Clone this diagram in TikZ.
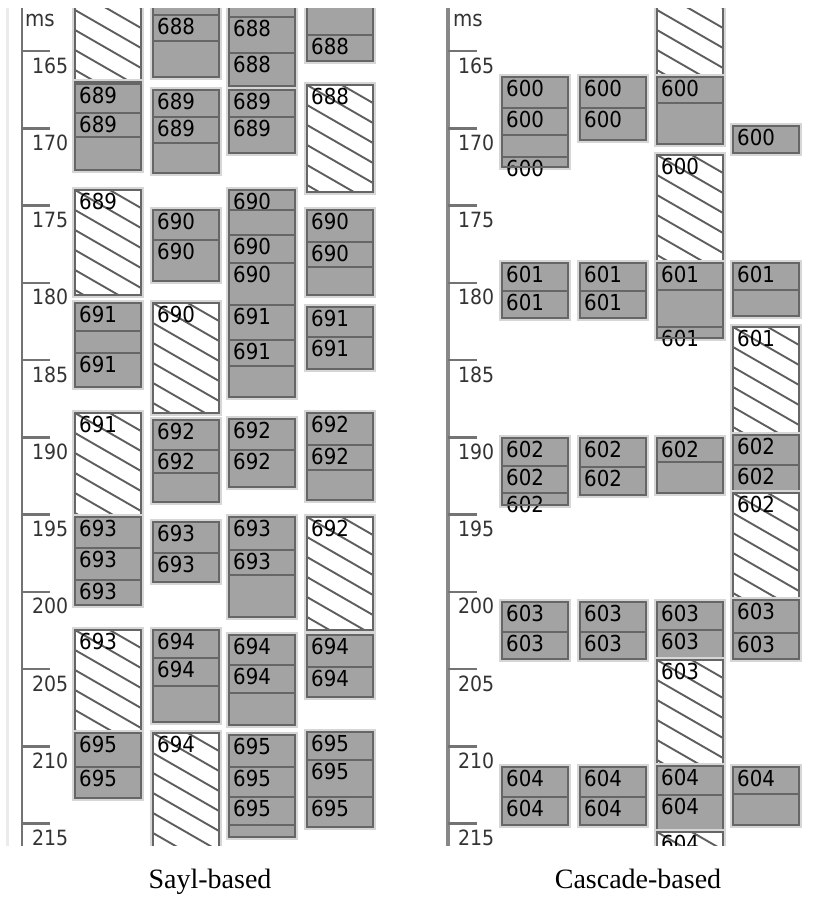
\documentclass[tikz,border=0pt]{standalone}
\usepackage{fontspec}
\setmainfont{Liberation Serif}
\newfontfamily\guifont[FakeStretch=0.9]{DejaVu Sans}
\usepackage{tikz}
\definecolor{cellfill}{HTML}{A3A3A3}
\definecolor{cellline}{HTML}{666666}
\definecolor{hatchline}{HTML}{5E5E5E}
\definecolor{halo}{HTML}{D6D6D6}
\definecolor{axisgray}{HTML}{737373}

\newcommand{\cellw}{66}
\newcommand{\graycell}[4]{%
  \draw[cell] (#1,#2) rectangle (#1+\cellw,#3);
  \foreach \y/\t in {#4} {
    \draw[divider] (#1,\y) -- (#1+\cellw,\y);
    \node[cellnum] (n#1-\y) at (#1+4,\y+19) {\t};
  }
  \draw[cellborder] (#1,#2) rectangle (#1+\cellw,#3);
}
\newcommand{\hatchcell}[4]{%
  \draw[hatchbg] (#1,#2) rectangle (#1+\cellw,#3);
  \begin{scope}
    \clip (#1,#2) rectangle (#1+\cellw,#3);
    \foreach \k in {-2,...,7}
      \draw[hatch] (#1,#2+\k*20) -- ++(\cellw,38);
  \end{scope}
  \draw[cellborder] (#1,#2) rectangle (#1+\cellw,#3);
  \node[cellnum] (h#1-#2) at (#1+4,#2+19) {#4};
}

\begin{document}
\begin{tikzpicture}[
x=1pt, y=-1pt,
cell/.style={fill=cellfill, draw=cellline, line width=2.5pt, preaction={draw=halo, line width=6pt}},
hatchbg/.style={fill=white, draw=cellline, line width=2.5pt, preaction={draw=halo, line width=6pt}},
cellborder/.style={draw=cellline, line width=2.5pt},
divider/.style={draw=cellline, line width=2.5pt},
hatch/.style={draw=hatchline, line width=1.9pt},
cellnum/.style={font=\guifont\fontsize{22}{22}\selectfont, inner sep=0pt, anchor=base west},
ticknum/.style={font=\guifont\fontsize{21}{21}\selectfont, inner sep=0pt, anchor=base west, text=black!80},
unitlabel/.style={font=\guifont\fontsize{22}{22}\selectfont, inner sep=0pt, anchor=base west, text=black!80},
tickline/.style={draw=axisgray, line width=2.5pt},
caption/.style={font=\fontsize{28}{28}\selectfont, inner sep=0pt, anchor=base}
]
\useasboundingbox (0,0) rectangle (828,918);
\begin{scope}
\clip (0,8) rectangle (828,845);
\draw[black!8, line width=3pt] (7,0) -- (7,860);
\draw[axisgray, line width=2.2pt] (22,0) -- (22,860);
\draw[axisgray!85, line width=3.5pt] (448,0) -- (448,860);
\node[unitlabel] (msl) at (25,26) {ms};
\node[unitlabel] (msr) at (453,26) {ms};
\foreach \t [evaluate=\t as \ty using {51+(\t-165)*15.45}] in {165,170,...,215} {
  \draw[tickline] (22,\ty) -- (50,\ty);
  \node[ticknum] (tl\t) at (32,\ty+22) {\t};
  \draw[tickline] (448,\ty) -- (477,\ty);
  \node[ticknum] (tr\t) at (458,\ty+22) {\t};
}

\hatchcell{75}{-10}{82}{}
\graycell{75}{82}{170}{84/689, 113/689, 137/{}}
\hatchcell{75}{190}{295}{689}
\graycell{75}{303}{387}{303/691, 331/{}, 353/691}
\hatchcell{75}{413}{517}{691}
\graycell{75}{517}{605}{517/693, 548/693, 580/693}
\hatchcell{75}{630}{733}{693}
\graycell{75}{733}{798}{733/695, 767/695}

\graycell{153}{-10}{77}{-10/{}, 15/688, 41/{}}
\graycell{153}{90}{173}{90/689, 117/689, 143/{}}
\graycell{153}{210}{281}{210/690, 240/690}
\hatchcell{153}{303}{413}{690}
\graycell{153}{420}{502}{420/692, 450/692, 473/{}}
\graycell{153}{522}{582}{522/693, 553/693}
\graycell{153}{630}{722}{630/694, 658/694, 686/{}}
\hatchcell{153}{733}{870}{694}

\graycell{229}{-10}{86}{-10/{}, 17/688, 53/688}
\graycell{229}{90}{153}{90/689, 117/689}
\graycell{229}{190}{397}{190/690, 210/{}, 235/690, 263/690, 305/691, 340/691, 366/{}}
\graycell{229}{419}{487}{419/692, 450/692}
\graycell{229}{517}{617}{517/693, 550/693, 575/{}}
\graycell{229}{635}{725}{635/694, 665/694, 693/{}}
\graycell{229}{735}{837}{735/695, 767/695, 797/695, 825/{}}

\graycell{307}{-10}{61}{-10/{}, 35/688}
\hatchcell{307}{85}{192}{688}
\graycell{307}{210}{295}{210/690, 242/690, 267/{}}
\graycell{307}{307}{369}{307/691, 337/691}
\graycell{307}{413}{500}{413/692, 445/692, 470/{}}
\hatchcell{307}{517}{630}{692}
\graycell{307}{635}{697}{635/694, 667/694}
\graycell{307}{732}{827}{732/695, 760/695, 797/695}

\graycell{502}{77}{167}{77/600, 108/600, 135/{}, 157/600}
\graycell{502}{263}{318}{263/601, 291/601}
\graycell{502}{438}{505}{438/602, 466/602, 493/602}
\graycell{502}{602}{659}{602/603, 632/603}
\graycell{502}{767}{825}{767/604, 797/604}

\graycell{580}{77}{140}{77/600, 108/600}
\graycell{580}{263}{318}{263/601, 291/601}
\graycell{580}{438}{495}{438/602, 467/602}
\graycell{580}{602}{659}{602/603, 632/603}
\graycell{580}{767}{825}{767/604, 797/604}

\hatchcell{657}{-10}{77}{}
\graycell{657}{77}{144}{77/600, 103/{}}
\hatchcell{657}{155}{263}{600}
\graycell{657}{263}{338}{263/601, 290/{}, 327/601}
\graycell{657}{438}{493}{438/602, 462/{}}
\graycell{657}{602}{660}{602/603, 630/603}
\hatchcell{657}{660}{766}{603}
\graycell{657}{766}{832}{766/604, 795/604}
\hatchcell{657}{832}{870}{604}

\graycell{733}{126}{153}{126/600}
\graycell{733}{263}{316}{263/601, 290/{}}
\hatchcell{733}{327}{435}{601}
\graycell{733}{435}{493}{435/602, 465/602}
\hatchcell{733}{493}{600}{602}
\graycell{733}{600}{659}{600/603, 633/603}
\graycell{733}{767}{825}{767/604, 794/{}}
\end{scope}

\node[caption] (sayl) at (210,888) {Sayl-based};
\node[caption] (cascade) at (638,888) {Cascade-based};
\end{tikzpicture}
\end{document}
